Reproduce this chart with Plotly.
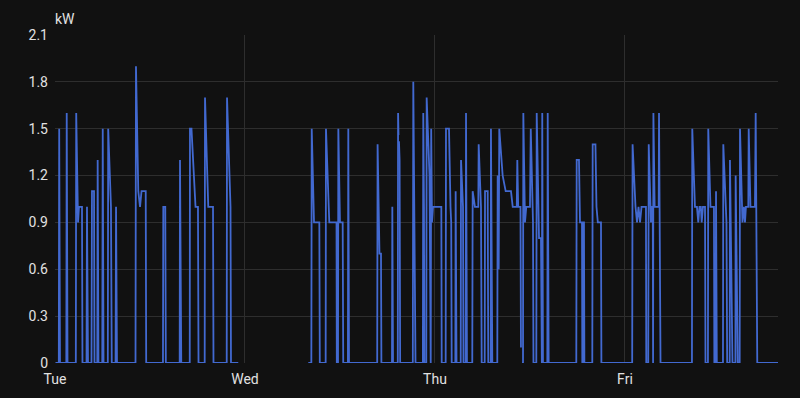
import plotly.graph_objects as go
import pandas as pd

# Hours since Tue 00:00 and power in kW (None = gap in data)
hours = [
    0.06, 0.48, 0.53, 0.63, 1.43, 1.48, 1.58, 2.63, 2.68, 2.91, 3.03, 3.41, 3.47,
    3.98, 4.04, 4.17, 4.61, 4.67, 4.93, 4.99, 5.34, 5.39, 5.49, 5.97, 6.03, 6.13,
    6.67, 6.72, 7.07, 7.17, 7.65, 7.71, 7.83,
    10.17, 10.23, 10.52, 10.74, 10.93, 11.46, 11.52,
    13.64, 13.68, 13.93, 14.00, 15.75, 15.79, 15.95,
    17.02, 17.05, 17.24, 17.75, 18.06, 18.13,
    18.91, 18.95, 19.36, 19.96, 20.02,
    21.69, 21.73, 22.17, 22.23, 23.15, 23.2,
    32.00, 32.38, 32.43, 32.72, 33.39, 33.45,
    34.19, 34.23, 34.65, 35.56, 35.60, 35.75, 35.79, 36.00, 36.34, 36.41,
    37.00, 37.05, 37.14,
    40.70, 40.75, 40.99, 41.18, 41.23,
    42.57, 42.61, 42.70,
    43.30, 43.34, 43.39, 43.42, 43.45, 43.53, 43.60,
    45.20, 45.26, 45.54,
    46.47, 46.52, 46.61, 46.65, 46.90, 46.95, 47.31, 47.46, 47.52, 47.62, 47.75, 48.80, 48.85,
    49.35, 49.39, 49.77, 49.96, 50.05, 50.11,
    50.57, 50.61, 50.72,
    51.25, 51.29, 51.54, 51.60,
    51.88, 51.92, 52.04,
    52.71, 52.76, 53.05, 53.47, 53.52, 53.81, 53.90,
    54.28, 54.32, 54.66, 54.73,
    55.04, 55.07, 55.24,
    55.87, 55.92, 56.05, 56.12, 56.55, 56.93, 57.60, 57.82, 58.33, 58.40, 58.51, 58.80, 58.86, 58.92,
    58.99, 59.12, 59.16, 59.37, 59.53, 60.00, 60.10, 60.38, 60.44,
    60.80, 60.85, 61.14, 61.39, 61.45, 61.50, 61.55, 61.64,
    62.19, 62.24, 62.36,
    65.85, 65.90, 66.19, 66.32, 66.57, 66.61, 66.67, 66.71, 66.82, 66.87,
    67.87, 67.92, 68.27, 68.40, 68.57, 68.97, 69.02,
    72.91, 72.96, 73.33, 73.52, 73.71, 73.90, 74.09, 74.65, 74.69,
    74.94, 75.00, 75.16, 75.28, 75.41, 75.51, 75.55, 75.59, 75.75, 75.83, 76.26, 76.30, 76.49,
    80.46, 80.50, 80.84, 81.09, 81.26, 81.41, 81.58, 81.69, 81.85, 82.11, 82.17,
    82.48, 82.52, 82.80, 83.24, 83.29,
    83.46, 83.50, 83.60,
    84.38, 84.42, 84.82, 84.91,
    85.23, 85.26, 85.58,
    85.95, 85.98, 86.25,
    86.49, 86.53, 86.84, 87.03, 87.16, 87.28, 87.58, 87.63, 87.85, 88.42, 88.51, 88.71,
    91.33,
]
values = [
    0, 0, 1.5, 0, 0, 1.6, 0, 0, 1.6, 0.9, 1.0, 1.0, 0,
    0, 1.0, 0, 0, 1.1, 1.1, 0, 0, 1.3, 0, 0, 1.5, 0,
    0, 1.5, 1.0, 0, 0, 1.0, 0,
    0, 1.9, 1.1, 1.0, 1.1, 1.1, 0,
    0, 1.0, 1.0, 0, 0, 1.3, 0,
    0, 1.5, 1.5, 1.0, 1.0, 0,
    0, 1.7, 1.0, 1.0, 0,
    0, 1.7, 1.0, 0, 0, None,
    0, 0, 1.5, 0.9, 0.9, 0,
    0, 1.5, 0.9, 0.9, 0, 0, 1.5, 0.9, 0.9, 0,
    0, 1.5, 0,
    0, 1.4, 0.7, 0.7, 0,
    0, 1.0, 0,
    0, 1.6, 1.46, None, 1.42, 1.3, 0,
    0, 1.8, 0,
    0, 1.6, 1.0, 0, 0, 1.7, 1.2, 0, 1.5, 0.9, 1.0, 1.0, 0,
    0, 1.5, 1.5, 1.0, 0.9, 0,
    0, 1.1, 0,
    0, 1.3, 1.0, 0,
    0, 1.6, 0,
    0, 1.1, 1.0, 1.0, 1.4, 1.0, 0,
    0, 1.1, 1.1, 0,
    0, 1.5, 0,
    0, 1.2, 0.6, 1.5, 1.2, 1.1, 1.1, 1.0, 1.0, 1.3, 1.0, 1.0, 0.1, None,
    0, 0, 1.6, 0.9, 1.0, 1.0, 1.5, 0.9, 0,
    0, 1.6, 0.8, 0.8, 0, 0, 1.6, 0,
    0, 1.6, 0,
    0, 1.3, 1.3, 0.9, 0.9, 0, 0, 0.9, 0.9, 0,
    0, 1.4, 1.4, 1.0, 0.9, 0.9, 0,
    0, 1.4, 1.0, 0.9, 1.0, 0.9, 1.0, 1.0, 0,
    0, 1.4, 1.0, 0.9, 1.0, 1.0, 0, 1.6, 1.0, 1.0, 1.0, 1.6, 0,
    0, 1.5, 1.0, 1.0, 0.9, 1.0, 1.0, 0.9, 1.0, 1.0, 0,
    0, 1.5, 1.0, 1.0, 0,
    0, 1.1, 0,
    0, 1.4, 0.9, 0,
    0, 1.3, 0,
    0, 1.2, 0,
    0, 1.5, 0.9, 1.0, 0.9, 1.0, 1.0, 1.5, 1.0, 1.0, 1.6, 0,
    0,
]
y_ticks = [0, 0.3, 0.6, 0.9, 1.2, 1.5, 1.8, 2.1]
y_tick_labels = ["0", "0.3", "0.6", "0.9", "1.2", "1.5", "1.8", "2.1"]
unit_label = "kW"
start = pd.Timestamp("2024-03-05 00:00")  # a Tuesday
end_hours = 91.33

times = [start + pd.Timedelta(hours=h) for h in hours]

fig = go.Figure()
fig.add_trace(go.Scatter(
    x=times, y=values, mode="lines",
    line=dict(color="#4269d0", width=1.8),
    connectgaps=False, hoverinfo="skip", showlegend=False,
))

grid = "#2e2e2e"
fig.update_layout(
    width=800, height=398,
    margin=dict(l=55, r=22, t=35, b=35),
    paper_bgcolor="#111111", plot_bgcolor="#111111",
    font=dict(family="Roboto, sans-serif", size=14, color="#e1e1e1"),
    xaxis=dict(
        type="date",
        range=[start, start + pd.Timedelta(hours=end_hours)],
        tick0=start, dtick=86400000, tickformat="%a",
        showgrid=True, gridcolor=grid, gridwidth=1,
        zeroline=False, showline=False, ticks="",
        ticklabelstandoff=6,
    ),
    yaxis=dict(
        range=[0, 2.1], tickvals=y_ticks, ticktext=y_tick_labels,
        showgrid=True, gridcolor=grid, gridwidth=1,
        zeroline=False, showline=False, ticks="",
        ticklabelstandoff=6,
    ),
    annotations=[dict(
        text=unit_label, xref="paper", yref="paper", x=0, y=1,
        xanchor="left", yanchor="bottom", yshift=6, xshift=-2,
        showarrow=False, font=dict(size=14, color="#e1e1e1"),
    )],
)

fig.write_html(
    "out.html",
    config={"displayModeBar": False},
    post_script="document.body.style.margin='0';document.body.style.background='#111111';document.body.style.overflow='hidden';",
)
